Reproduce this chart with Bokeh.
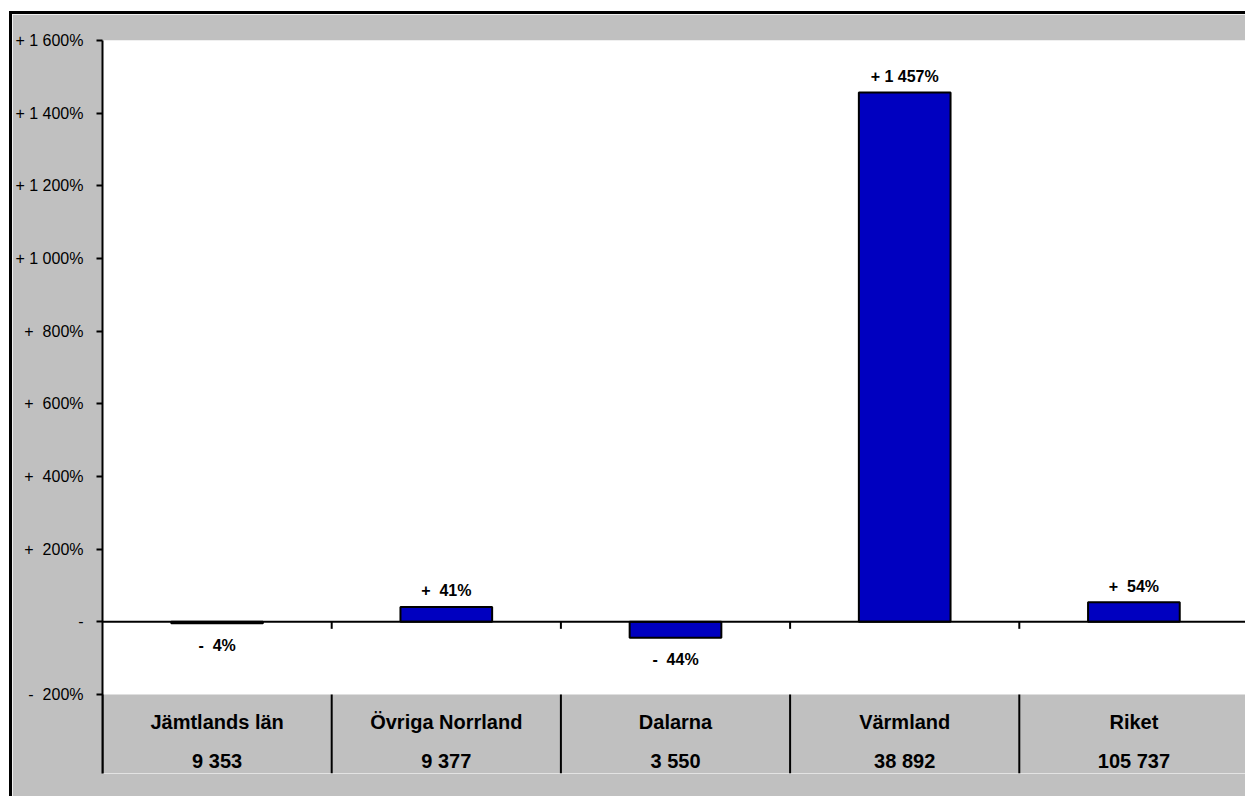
from bokeh.plotting import figure
from bokeh.models import Range1d, FixedTicker, ColumnDataSource
from bokeh.core.properties import value
from bokeh.embed import file_html
from bokeh.resources import INLINE

NB = "\u00a0"

# ---- data ----
regions = ["Jämtlands län", "Övriga Norrland", "Dalarna", "Värmland", "Riket"]
counts = ["9 353", "9 377", "3 550", "38 892", "105 737"]
change_pct = [-4, 41, -44, 1457, 54]
y_ticks = [-200, 0, 200, 400, 600, 800, 1000, 1200, 1400, 1600]
y_tick_labels = ["-" + NB + NB + "200%", "-", "+" + NB + NB + "200%", "+" + NB + NB + "400%",
                 "+" + NB + NB + "600%", "+" + NB + NB + "800%",
                 "+ 1 000%", "+ 1 200%", "+ 1 400%", "+ 1 600%"]


def fmt_pct(v):
    sign = "+" if v > 0 else "-"
    n = abs(v)
    s = f"{n:,}".replace(",", " ")
    if n < 1000:
        s = NB + s
    return f"{sign}{NB}{s}%"


value_labels = [fmt_pct(v) for v in change_pct]

FONT = "Liberation Sans"
GRAY = "#C0C0C0"
BAR = "#0000C0"

W, H = 1236, 785
MB_L, MB_R, MB_T, MB_B = 89, 0, 26, 26
frame_h = H - MB_T - MB_B
y_end = 1600
px_per_unit = 654 / 1800
y_start = y_end - frame_h / px_per_unit

n = len(regions)
xs = [i + 0.5 for i in range(n)]

p = figure(width=W, height=H, output_backend="svg", toolbar_location=None,
           x_range=Range1d(0, n), y_range=Range1d(y_start, y_end),
           min_border_left=MB_L, min_border_right=MB_R,
           min_border_top=MB_T, min_border_bottom=MB_B)
p.styles = {"border-left": "3px solid black", "border-top": "3px solid black",
            "margin-left": "9px", "margin-top": "11px"}
p.background_fill_color = "white"
p.border_fill_color = GRAY
p.outline_line_color = None
p.grid.visible = False
p.xaxis.visible = False

# y axis
ya = p.yaxis[0]
ya.ticker = FixedTicker(ticks=y_ticks)
ya.major_label_overrides = {t: l for t, l in zip(y_ticks, y_tick_labels)}
ya.axis_line_width = 2
ya.axis_line_color = "black"
ya.major_tick_line_width = 2
ya.major_tick_out = 6
ya.major_tick_in = 0
ya.minor_tick_line_color = None
ya.major_label_standoff = 13
ya.major_label_text_font = FONT
ya.major_label_text_font_size = "16px"
ya.major_label_text_color = "black"

# gray band below the chart area (category label zone)
p.quad(left=[0], right=[n], bottom=[y_start], top=[y_ticks[0]],
       fill_color=GRAY, line_color=None)

# bars
src = ColumnDataSource(dict(x=xs, top=change_pct, lab=value_labels,
                            yoff=[-16 if v > 0 else 22 for v in change_pct]))
p.vbar(x="x", top="top", bottom=0, width=0.4, source=src,
       fill_color=BAR, line_color="black", line_width=2)

# zero line
p.segment(x0=[0], y0=[0], x1=[n], y1=[0], line_color="black", line_width=2)

# category separators
tick_len = 7 / px_per_unit
bounds = list(range(1, n))
p.segment(x0=bounds, y0=[0] * len(bounds), x1=bounds, y1=[-tick_len] * len(bounds),
          line_color="black", line_width=2)
bounds_all = list(range(0, n))
p.segment(x0=bounds_all, y0=[y_ticks[0]] * len(bounds_all), x1=bounds_all,
          y1=[y_start] * len(bounds_all), line_color="black", line_width=2)

# value labels
p.text(x="x", y="top", text="lab", y_offset="yoff", source=src,
       text_font=value(FONT), text_font_style="bold", text_font_size="16px",
       text_align="center", text_baseline="middle", text_color="black")

# category labels
csrc = ColumnDataSource(dict(x=xs, y=[y_ticks[0]] * n, name=regions, cnt=counts))
p.text(x="x", y="y", text="name", y_offset=27, source=csrc,
       text_font=value(FONT), text_font_style="bold", text_font_size="20px",
       text_align="center", text_baseline="middle", text_color="black")
p.text(x="x", y="y", text="cnt", y_offset=66, source=csrc,
       text_font=value(FONT), text_font_style="bold", text_font_size="20px",
       text_align="center", text_baseline="middle", text_color="black")

open("out.html", "w").write(file_html(p, INLINE))
